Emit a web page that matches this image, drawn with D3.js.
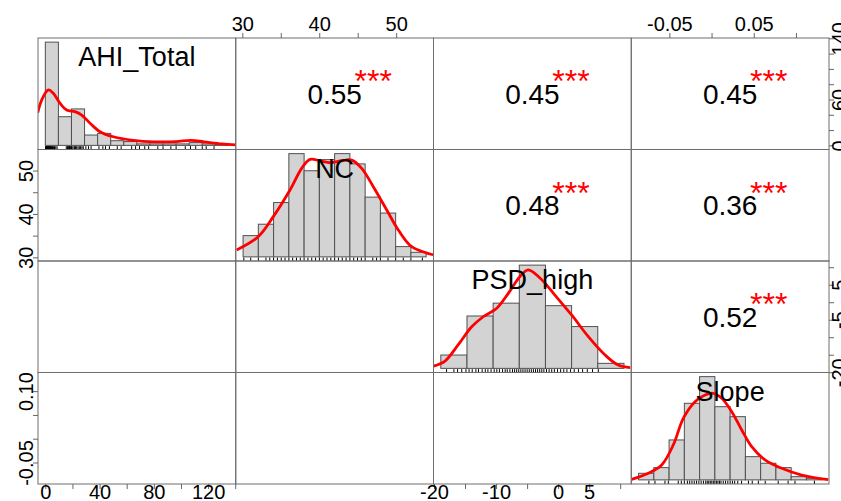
<!DOCTYPE html>
<html>
<head>
<meta charset="utf-8">
<script src="https://cdn.jsdelivr.net/npm/d3@7"></script>
<style>
  body { margin: 0; background: #fff; }
  svg { display: block; font-family: "Liberation Sans", Arial, sans-serif; }
</style>
</head>
<body>
<svg></svg>
<script>
let variables = ['AHI_Total', 'NC', 'PSD_high', 'Slope'];
// min / max of each variable (pairs() axis range)
let ranges = [[0, 135], [30.1, 53.9], [-18.9, 10.6], [-0.0865, 0.1305]];

// axis ticks and the labels R kept on each side
let ahiTicks = [0, 20, 40, 60, 80, 100, 120, 140];
let ncTicks = [30, 35, 40, 45, 50];
let psdTicks = [-20, -15, -10, -5, 0, 5, 10];
let slopeTicks = [-0.05, 0, 0.05, 0.10];
let xLabels = [[0, 40, 80, 120], [30, 40, 50], [-20, -10, 0, 5], [-0.05, 0.05]];
let yLabels = [[0, 60, 140], [30, 40, 50], [-20, -5, 5], [-0.05, 0.10]];

// histograms (probability = TRUE) and kernel densities
let ahiBreaks = [0, 10, 20, 30, 40, 50, 60, 70, 80, 90, 100, 110, 120, 130, 140];
let ahiDens = [0.0490, 0.0136, 0.0173, 0.0049, 0.0057, 0.0022, 0.0018, 0.0007, 0.0007, 0.0007, 0.0007, 0.0013, 0.0007, 0.0004];
let ahiKx = [-5.8, -2.8, 2.3, 6.1, 11.2, 16.3, 22.7, 27.8, 34.2, 41.8, 52.0, 67.3, 83.1, 99.9, 111.4, 121.3, 135.1, 146];
let ahiKy = [0.0155, 0.0215, 0.0263, 0.0247, 0.0200, 0.0168, 0.0160, 0.0144, 0.0105, 0.0065, 0.0041, 0.0024, 0.0017, 0.0018, 0.0024, 0.0017, 0.0007, 0.0002];
let ahiRug = [0.2, 0.5, 0.8, 1, 1.2, 1.5, 1.8, 2, 2.3, 2.6, 3, 3.3, 3.7, 4, 4.4, 4.8, 5.5, 6.2, 7, 8, 9,
  16, 17, 17.5, 18, 18.5, 19, 19.5, 20, 21, 22, 22.5, 23, 24, 25, 26, 27, 28, 29, 31, 33, 35,
  41, 44, 46, 49, 55, 58, 66, 69, 72, 76, 79, 86, 90, 96, 100, 107, 111, 115, 120, 123, 129];

let ncBreaks = [30, 32, 34, 36, 38, 40, 42, 44, 46, 48, 50, 52, 54];
let ncDens = [0.0149, 0.0229, 0.0381, 0.0724, 0.0604, 0.0682, 0.0724, 0.0652, 0.0419, 0.0307, 0.0072, 0.0032];
let ncKx = [29.16, 31.98, 33.96, 36.15, 37.68, 38.77, 40.08, 41.39, 42.93, 44.24, 45.55, 47.07, 48.83, 50.35, 52.10, 54.50, 55];
let ncKy = [0.0048, 0.0141, 0.0282, 0.0469, 0.0621, 0.0684, 0.0674, 0.0660, 0.0674, 0.0679, 0.0621, 0.0492, 0.0329, 0.0188, 0.0071, 0.0020, 0.0015];
let ncRug = [30.1, 31, 32, 33, 33.5, 34, 34.5, 35, 35.5, 36, 36.5, 37, 37.5, 38, 38.5, 39, 39.5, 40, 40.5,
  41, 41.5, 42, 42.5, 43, 43.5, 44, 44.5, 45, 45.5, 46, 47, 47.5, 48, 49, 50, 51, 52, 53.5];

let psdBreaks = [-20, -15, -10, -5, 0, 5, 10, 15];
let psdDens = [0.0053, 0.0208, 0.0259, 0.0410, 0.0249, 0.0166, 0.0020];
let psdKx = [-21.4, -19.2, -16.7, -14.1, -11.9, -9.3, -7.1, -4.9, -3.3, -1.0, 1.8, 5.0, 8.2, 11.4, 13.9, 16.2];
let psdKy = [0.0009, 0.0029, 0.0093, 0.0165, 0.0205, 0.0239, 0.0298, 0.0364, 0.0391, 0.0358, 0.0291, 0.0212, 0.0126, 0.0053, 0.0013, 0.0003];
let psdRug = [-18.9, -17.5, -16.8, -16, -15.2, -14.6, -14, -13.3, -12.8, -12.1, -11.5, -11, -10.4, -9.8, -9.3,
  -8.8, -8.2, -7.7, -7.3, -6.8, -6.3, -5.9, -5.5, -5.1, -4.7, -4.3, -3.9, -3.5, -3.1, -2.7, -2.3, -1.9,
  -1.5, -1.1, -0.7, -0.3, 0.2, 0.7, 1.2, 1.7, 2.3, 2.9, 3.5, 4.1, 4.8, 5.5, 6.3, 7.1, 8, 9, 10.1];

let slopeBreaks = [-0.10, -0.08, -0.06, -0.04, -0.02, 0, 0.02, 0.04, 0.06, 0.08, 0.10, 0.12, 0.14];
let slopeDens = [0.72, 1.34, 4.37, 8.38, 11.3, 8.01, 6.92, 2.54, 1.82, 1.34, 0.35, 0.18];
let slopeKx = [-0.109, -0.0872, -0.0697, -0.0545, -0.0414, -0.026, -0.0129, -0.0021, 0.009, 0.0221, 0.0352, 0.0483, 0.0657, 0.0876, 0.1138, 0.1487];
let slopeKy = [0.06, 0.72, 1.63, 3.82, 6.74, 8.56, 9.29, 9.48, 8.93, 7.46, 5.46, 3.63, 2.18, 1.27, 0.53, 0.02];
let slopeRug = [-0.0865, -0.0785, -0.0654, -0.061, -0.048, -0.044, -0.04, -0.036, -0.033, -0.03, -0.027, -0.024,
  -0.021, -0.018, -0.015, -0.012, -0.01, -0.008, -0.006, -0.004, -0.002, 0, 0.002, 0.004, 0.006, 0.008, 0.011,
  0.014, 0.017, 0.02, 0.023, 0.026, 0.03, 0.035, 0.044, 0.049, 0.057, 0.066, 0.083, 0.096, 0.105, 0.1305];

// upper panels: [row, col], r, significance
let corrCells = [[0, 1], [0, 2], [0, 3], [1, 2], [1, 3], [2, 3]];
let corrValues = ['0.55', '0.45', '0.45', '0.48', '0.36', '0.52'];
let corrStars = ['***', '***', '***', '***', '***', '***'];

let width = 841;
let height = 501;
let padLeft = 38;
let padTop = 38;
let cellW = 197.75;
let cellH = 111.5;
let n = variables.length;

let svg = d3.select('svg').attr('width', width).attr('height', height);
let defs = svg.append('defs');

let extend = (lo, hi) => {
  let r = hi - lo;
  return [lo - 0.04 * r, hi + 0.04 * r];
};

let xScales = ranges.map((r, i) => d3.scaleLinear().domain(extend(r[0], r[1])).range([padLeft + i * cellW, padLeft + (i + 1) * cellW]));
let yScales = ranges.map((r, i) => d3.scaleLinear().domain(extend(r[0], r[1])).range([padTop + (i + 1) * cellH, padTop + i * cellH]));

let diagData = [
  { breaks: ahiBreaks, dens: ahiDens, kx: ahiKx, ky: ahiKy, rug: ahiRug },
  { breaks: ncBreaks, dens: ncDens, kx: ncKx, ky: ncKy, rug: ncRug },
  { breaks: psdBreaks, dens: psdDens, kx: psdKx, ky: psdKy, rug: psdRug },
  { breaks: slopeBreaks, dens: slopeDens, kx: slopeKx, ky: slopeKy, rug: slopeRug }
];

let drawDiagonal = () => {
  diagData.forEach((d, i) => {
    let x0 = padLeft + i * cellW;
    let y0 = padTop + i * cellH;
    let hx = d3.scaleLinear().
      domain(extend(d.breaks[0], d.breaks[d.breaks.length - 1])).
      range([x0, x0 + cellW]);
    let hy = d3.scaleLinear().
      domain(extend(0, d3.max(d.dens))).
      range([y0 + cellH, y0]);

    defs.append('clipPath').attr('id', 'clip' + i).
      append('rect').attr('x', x0).attr('y', y0).attr('width', cellW).attr('height', cellH);

    let g = svg.append('g').attr('clip-path', 'url(#clip' + i + ')');

    g.selectAll('rect').
      data(d.dens).
      enter().
      append('rect').
      attr('x', (v, k) => hx(d.breaks[k])).
      attr('y', v => hy(v)).
      attr('width', (v, k) => hx(d.breaks[k + 1]) - hx(d.breaks[k])).
      attr('height', v => hy(0) - hy(v)).
      attr('fill', '#d3d3d3').
      attr('stroke', '#505050').
      attr('stroke-width', 1);

    let line = d3.line().
      x(k => hx(d.kx[k])).
      y(k => hy(d.ky[k])).
      curve(d3.curveCatmullRom);

    g.append('path').
      attr('d', line(d3.range(d.kx.length))).
      attr('fill', 'none').
      attr('stroke', 'red').
      attr('stroke-width', 2.8);

    g.selectAll('line.rug').
      data(d.rug).
      enter().
      append('line').
      attr('class', 'rug').
      attr('x1', v => hx(v)).
      attr('x2', v => hx(v)).
      attr('y1', y0 + cellH).
      attr('y2', y0 + cellH - 0.03 * cellH).
      attr('stroke', '#000').
      attr('stroke-width', 1);

    svg.append('text').
      attr('x', x0 + cellW / 2).
      attr('y', y0 + cellH / 6 + 0.358 * 27).
      attr('text-anchor', 'middle').
      attr('font-size', 27).
      attr('fill', '#000').
      text(variables[i]);
  });
};

let drawUpper = () => {
  corrCells.forEach((c, k) => {
    let x0 = padLeft + c[1] * cellW;
    let y0 = padTop + c[0] * cellH;
    svg.append('text').
      attr('x', x0 + cellW / 2).
      attr('y', y0 + cellH / 2 + 0.358 * 28).
      attr('text-anchor', 'middle').
      attr('font-size', 28).
      attr('fill', '#000').
      text(corrValues[k]);
    svg.append('text').
      attr('x', x0 + 0.695 * cellW).
      attr('y', y0 + 0.32 * cellH + 18.4).
      attr('text-anchor', 'middle').
      attr('font-size', 32).
      attr('fill', 'red').
      text(corrStars[k]);
  });
};

let drawBoxes = () => {
  for (let i = 0; i < n; i++) {
    for (let j = 0; j < n; j++) {
      svg.append('rect').
        attr('x', padLeft + j * cellW).
        attr('y', padTop + i * cellH).
        attr('width', cellW).
        attr('height', cellH).
        attr('fill', 'none').
        attr('stroke', '#6e6e6e').
        attr('stroke-width', 1);
    }
  }
};

let fmt = (i, v) => i === 3 ? v.toFixed(2) : String(v);
let ticksFor = [ahiTicks, ncTicks, psdTicks, slopeTicks];

let styleAxis = g => {
  g.attr('font-size', 20).attr('font-family', null);
  g.select('.domain').remove();
  g.selectAll('line').attr('stroke', '#666');
  g.selectAll('text').attr('fill', '#000');
};

let generateAxes = () => {
  for (let j = 0; j < n; j++) {
    let labels = xLabels[j];
    if (j % 2 === 0) {
      let axis = d3.axisBottom(xScales[j]).tickValues(ticksFor[j]).tickSize(5).
        tickFormat(v => labels.includes(v) ? fmt(j, v) : '');
      let g = svg.append('g').attr('transform', 'translate(0,' + (padTop + n * cellH) + ')').call(axis);
      styleAxis(g);
      g.selectAll('text').attr('y', 15).attr('dy', 0);
    } else {
      let axis = d3.axisTop(xScales[j]).tickValues(ticksFor[j]).tickSize(5).
        tickFormat(v => labels.includes(v) ? fmt(j, v) : '');
      let g = svg.append('g').attr('transform', 'translate(0,' + padTop + ')').call(axis);
      styleAxis(g);
      g.selectAll('text').attr('y', -7.5).attr('dy', 0);
    }
  }
  for (let i = 0; i < n; i++) {
    let labels = yLabels[i];
    if (i % 2 === 0) {
      let axis = d3.axisRight(yScales[i]).tickValues(ticksFor[i]).tickSize(5).
        tickFormat(v => labels.includes(v) ? fmt(i, v) : '');
      let g = svg.append('g').attr('transform', 'translate(' + (padLeft + n * cellW) + ',0)').call(axis);
      styleAxis(g);
      g.selectAll('text').
        attr('x', 0).attr('y', 17).attr('dy', 0).
        attr('text-anchor', 'middle').
        attr('transform', 'rotate(-90)');
    } else {
      let axis = d3.axisLeft(yScales[i]).tickValues(ticksFor[i]).tickSize(5).
        tickFormat(v => labels.includes(v) ? fmt(i, v) : '');
      let g = svg.append('g').attr('transform', 'translate(' + padLeft + ',0)').call(axis);
      styleAxis(g);
      g.selectAll('text').
        attr('x', 0).attr('y', -5).attr('dy', 0).
        attr('text-anchor', 'middle').
        attr('transform', 'rotate(-90)');
    }
  }
};

drawDiagonal();
drawUpper();
drawBoxes();
generateAxes();
</script>
</body>
</html>
